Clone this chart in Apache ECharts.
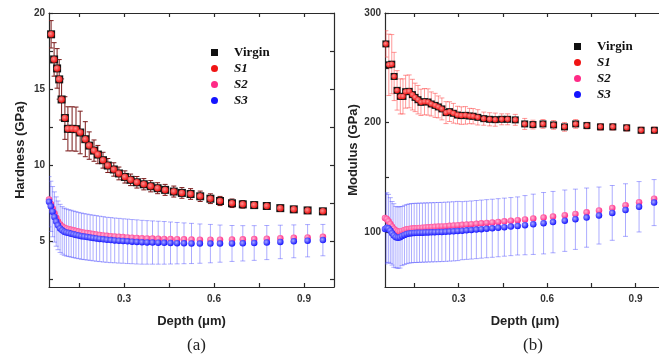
<!DOCTYPE html>
<html>
<head>
<meta charset="utf-8">
<script src="https://cdn.jsdelivr.net/npm/echarts@6/dist/echarts.min.js"></script>
<style>
  html, body { margin: 0; padding: 0; background: #fff; }
  #chart { width: 659px; height: 362px; }
</style>
</head>
<body>
<div id="chart"></div>
<script>
// ---- Hardness panel (a): Virgin / S1 sampled depths (µm) ----
const depthHard = [0.057,0.067,0.077,0.084,0.092,0.103,0.113,0.127,0.140,0.154,
  0.171,0.184,0.200,0.213,0.230,0.246,0.266,0.283,0.303,0.322,
  0.343,0.366,0.389,0.412,0.437,0.466,0.493,0.522,0.554,0.588,
  0.620,0.660,0.696,0.734,0.776,0.821,0.866,0.912,0.963];
const virginHard = [18.6,16.95,16.36,15.64,14.32,13.1,12.39,12.39,12.37,12.15,
  11.71,11.29,10.96,10.70,10.33,9.98,9.72,9.46,9.23,9.04,
  8.88,8.75,8.62,8.49,8.38,8.27,8.18,8.11,7.96,7.80,
  7.65,7.50,7.43,7.38,7.32,7.18,7.10,7.03,6.97];
const s1Hard = [18.6,16.95,16.36,15.64,14.32,13.1,12.39,12.39,12.37,12.15,
  11.71,11.29,10.96,10.70,10.33,9.98,9.72,9.46,9.23,9.04,
  8.88,8.75,8.62,8.49,8.38,8.27,8.18,8.11,7.96,7.80,
  7.65,7.50,7.43,7.38,7.32,7.18,7.10,7.03,6.97];
const virginHardErr = [0.9,1.1,1.3,1.3,1.35,1.4,1.45,1.45,1.45,1.4,
  1.15,0.9,0.7,0.6,0.52,0.46,0.44,0.42,0.4,0.38,
  0.38,0.37,0.37,0.36,0.36,0.36,0.35,0.35,0.34,0.32,
  0.3,0.28,0.25,0.22,0.2,0.2,0.2,0.2,0.2];

// ---- S2 / S3 sampled depths (µm), shared by both panels ----
const depthFine = [0.050,0.056,0.062,0.068,0.074,0.080,0.087,0.094,0.101,0.108,
  0.116,0.124,0.132,0.140,0.149,0.158,0.167,0.177,0.187,0.197,
  0.208,0.219,0.231,0.243,0.256,0.269,0.283,0.297,0.312,0.327,
  0.343,0.360,0.377,0.395,0.414,0.434,0.455,0.477,0.500,0.525,
  0.553,0.588,0.620,0.660,0.696,0.734,0.776,0.821,0.866,0.912,
  0.963];
const s2Hard = [7.75,7.45,7.15,6.85,6.55,6.30,6.10,5.97,5.90,5.85,
  5.80,5.76,5.72,5.68,5.64,5.60,5.57,5.54,5.51,5.48,
  5.45,5.42,5.39,5.36,5.34,5.32,5.30,5.28,5.26,5.24,
  5.22,5.20,5.19,5.18,5.17,5.16,5.15,5.14,5.13,5.12,
  5.11,5.11,5.11,5.12,5.13,5.15,5.17,5.20,5.23,5.26,
  5.30];
const s3Hard = [7.60,7.30,6.95,6.60,6.30,6.05,5.85,5.72,5.63,5.58,
  5.54,5.50,5.46,5.42,5.38,5.34,5.31,5.28,5.25,5.22,
  5.19,5.16,5.13,5.10,5.08,5.06,5.04,5.02,5.00,4.98,
  4.96,4.94,4.93,4.92,4.91,4.90,4.89,4.88,4.87,4.86,
  4.85,4.85,4.85,4.86,4.87,4.89,4.92,4.96,5.00,5.04,
  5.08];
const s3HardErr = [1.65,1.65,1.65,1.65,1.62,1.60,1.58,1.56,1.55,1.55,
  1.54,1.54,1.53,1.53,1.52,1.52,1.51,1.51,1.50,1.50,
  1.50,1.49,1.49,1.48,1.48,1.47,1.47,1.46,1.46,1.45,
  1.45,1.44,1.43,1.42,1.41,1.40,1.38,1.36,1.34,1.32,
  1.29,1.26,1.22,1.18,1.16,1.14,1.12,1.10,1.08,1.06,
  1.03];

// ---- Modulus panel (b): Virgin / S1 ----
const depthMod = [0.053,0.063,0.073,0.081,0.091,0.102,0.111,0.120,0.132,0.143,
  0.152,0.162,0.172,0.184,0.196,0.207,0.220,0.231,0.243,0.257,
  0.269,0.282,0.296,0.309,0.323,0.337,0.349,0.365,0.385,0.405,
  0.424,0.446,0.466,0.492,0.524,0.552,0.586,0.622,0.659,0.697,
  0.735,0.781,0.823,0.870,0.919,0.964];
const virginMod = [271.8,252.7,253.3,242.1,229.4,223.9,223.9,228.2,228.5,225.5,
  223.0,220.9,218.5,219.1,218.8,217.0,215.7,214.3,212.5,209.1,
  210.0,208.5,206.9,206.4,206.6,206.0,205.8,204.8,203.6,203.0,
  202.7,203.0,203.0,202.5,198.8,198.2,198.8,197.9,196.1,198.8,
  197.3,196.1,196.1,195.2,193.0,193.0];
const s1Mod = [271.8,252.7,253.3,242.1,229.4,223.9,223.9,228.2,228.5,225.5,
  223.0,220.9,218.5,219.1,218.8,217.0,215.7,214.3,212.5,209.1,
  210.0,208.5,206.9,206.4,206.6,206.0,205.8,204.8,203.6,203.0,
  202.7,203.0,203.0,202.5,198.8,198.2,198.8,197.9,196.1,198.8,
  197.3,196.1,196.1,195.2,193.0,193.0];
const s1ModErr = [12,28,27,22,18,16,16,15,15,14,
  13,13,12,12,12,11,11,10,10,10,
  9,9,8,8,8,7,7,7,6,6,
  6,5,5,5,5,4,4,4,4,4,
  3,3,3,3,3,3];

// ---- Modulus panel (b): S2 / S3 ----
const s2Mod = [113.0,112.0,110.0,107.5,105.0,103.0,101.5,100.6,100.5,101.2,
  102.0,102.6,103.0,103.3,103.5,103.7,103.9,104.1,104.3,104.5,
  104.7,104.9,105.1,105.3,105.5,105.8,106.1,106.4,106.7,107.0,
  107.3,107.7,108.1,108.5,108.9,109.4,109.9,110.4,111.0,111.7,
  112.5,113.4,114.3,115.5,116.7,118.1,119.9,122.1,124.6,127.4,
  130.6];
const s3Mod = [103.0,104.0,103.5,101.5,99.0,97.0,95.5,95.0,95.3,96.5,
  97.5,98.3,98.8,99.1,99.3,99.4,99.5,99.6,99.7,99.8,
  99.9,100.0,100.1,100.2,100.4,100.6,100.8,101.1,101.4,101.7,
  102.0,102.4,102.8,103.2,103.6,104.1,104.6,105.1,105.7,106.4,
  107.2,108.2,109.2,110.5,111.8,113.3,115.2,117.6,120.2,123.2,
  127.0];
const s3ModErr = [32,32,31,30,29,29,28,28,28,27,
  27,27,27,27,27,27,27,27,27,27,
  27,27,27,27,27,27,27,27,26.5,26.5,
  26.5,26.5,26.5,26.5,26.5,26.5,26.5,26.5,26.5,27,
  27.5,28,28,28,27.5,27,26,25,24,23,
  21];

// ---- Axis tick / label values ----
const depthTicks = [0.15, 0.3, 0.45, 0.6, 0.75, 0.9];
const depthLabels = [0.3, 0.6, 0.9];
const hardTicks = [2.5, 5, 7.5, 10, 12.5, 15, 17.5, 20];
const hardLabels = [5, 10, 15, 20];
const modTicks = [100, 150, 200, 250, 300];
const modLabels = [100, 200, 300];
const seriesNames = ['Virgin', 'S1', 'S2', 'S3'];

const SANS = '"Liberation Sans", Arial, Helvetica, sans-serif';
const SERIF = '"Liberation Serif", "Times New Roman", serif';
const AXIS_COLOR = '#2a2a2a';

const RED = '#f01414';
const PINK = '#ff2a86';
const BLUE = '#1414ff';

function radial(inner, outer) {
  return {
    type: 'radial', x: 0.4, y: 0.4, r: 0.6,
    colorStops: [{ offset: 0, color: inner }, { offset: 1, color: outer }]
  };
}

function pairs(xs, ys) { return xs.map((x, i) => [x, ys[i]]); }

const lineStyle = { color: AXIS_COLOR, width: 1.2 };

function xAxesFor(gridIndex) {
  const common = {
    type: 'value', gridIndex, min: 0.05, max: 1.0,
    axisLine: { show: true, onZero: false, lineStyle },
    axisTick: { show: true, inside: true, length: 4, customValues: depthTicks, lineStyle },
    splitLine: { show: false }
  };
  return [
    Object.assign({}, common, {
      position: 'bottom',
      axisLabel: {
        customValues: depthLabels, formatter: v => v.toFixed(1),
        fontFamily: SANS, fontWeight: 'bold', fontSize: 10, color: '#333', margin: 7
      },
      name: 'Depth (μm)', nameLocation: 'middle', nameGap: 28,
      nameTextStyle: { fontFamily: SANS, fontWeight: 'bold', fontSize: 13, color: '#222' }
    }),
    Object.assign({}, common, { position: 'top', axisLabel: { show: false } })
  ];
}

function yAxesFor(gridIndex, min, max, ticks, labels, name) {
  const common = {
    type: 'value', gridIndex, min, max,
    axisLine: { show: true, onZero: false, lineStyle },
    axisTick: { show: true, inside: true, length: 4, customValues: ticks, lineStyle },
    splitLine: { show: false }
  };
  return [
    Object.assign({}, common, {
      position: 'left',
      axisLabel: {
        customValues: labels, fontFamily: SANS, fontWeight: 'bold',
        fontSize: 10, color: '#333', margin: 4
      },
      name, nameLocation: 'middle', nameGap: 22,
      nameTextStyle: { fontFamily: SANS, fontWeight: 'bold', fontSize: 13, color: '#222' }
    }),
    Object.assign({}, common, { position: 'right', axisLabel: { show: false } })
  ];
}

function errorBars(name, xi, yi, xs, ys, errs, color, cap) {
  return {
    type: 'custom', name, xAxisIndex: xi, yAxisIndex: yi, z: 2, silent: true,
    clip: true,
    data: xs.map((x, i) => [x, ys[i] - errs[i], ys[i] + errs[i]]),
    encode: { x: 0, y: [1, 2] },
    renderItem(params, api) {
      const lo = api.coord([api.value(0), api.value(1)]);
      const hi = api.coord([api.value(0), api.value(2)]);
      const h = cap / 2;
      const st = { stroke: color, lineWidth: 1 };
      return {
        type: 'group',
        children: [
          { type: 'line', shape: { x1: hi[0], y1: hi[1], x2: lo[0], y2: lo[1] }, style: st },
          { type: 'line', shape: { x1: hi[0] - h, y1: hi[1], x2: hi[0] + h, y2: hi[1] }, style: st },
          { type: 'line', shape: { x1: lo[0] - h, y1: lo[1], x2: lo[0] + h, y2: lo[1] }, style: st }
        ]
      };
    }
  };
}

function scatter(name, xi, yi, xs, ys, symbol, size, color, z) {
  return {
    type: 'scatter', name, xAxisIndex: xi, yAxisIndex: yi,
    data: pairs(xs, ys), symbol, symbolSize: size, z,
    itemStyle: { color, opacity: 1 },
    emphasis: { disabled: true }
  };
}

const legendData = [
  { name: 'Virgin', icon: 'rect', itemStyle: { color: '#111' } },
  { name: 'S1', icon: 'circle', itemStyle: { color: RED } },
  { name: 'S2', icon: 'circle', itemStyle: { color: PINK } },
  { name: 'S3', icon: 'circle', itemStyle: { color: BLUE } }
];

function legendAt(left, top) {
  return {
    orient: 'vertical', left, top, itemWidth: 7, itemHeight: 7, itemGap: 3,
    selectedMode: false, data: legendData,
    formatter: n => (n === 'Virgin' ? '{n|' + n + '}' : '{i|' + n + '}'),
    textStyle: {
      rich: {
        n: { fontFamily: SERIF, fontWeight: 'bold', fontSize: 13, color: '#111', padding: [0, 0, 0, 11], lineHeight: 14 },
        i: { fontFamily: SERIF, fontWeight: 'bold', fontStyle: 'italic', fontSize: 13, color: '#111', padding: [0, 0, 0, 11], lineHeight: 14 }
      }
    }
  };
}

const [xa0, xa1] = xAxesFor(0);
const [xb0, xb1] = xAxesFor(1);
const [ya0, ya1] = yAxesFor(0, 2, 20, hardTicks, hardLabels, 'Hardness (GPa)');
const [yb0, yb1] = yAxesFor(1, 50, 300, modTicks, modLabels, 'Modulus (GPa)');

const option = {
  animation: false,
  backgroundColor: '#fff',
  grid: [
    { left: 49, top: 13, width: 285, height: 274, outerBoundsMode: 'none' },
    { left: 385, top: 13, width: 280, height: 274, outerBoundsMode: 'none' }
  ],
  xAxis: [xa0, xa1, xb0, xb1],
  yAxis: [ya0, ya1, yb0, yb1],
  legend: [legendAt(206, 41), legendAt(569, 35)],
  series: [
    // panel (a)
    errorBars('S3 err a', 0, 0, depthFine, s3Hard, s3HardErr, 'rgba(70,70,255,0.45)', 5),
    scatter('S2', 0, 0, depthFine, s2Hard, 'circle', 6.5, radial('#ffb3d4', PINK), 3),
    scatter('S3', 0, 0, depthFine, s3Hard, 'circle', 6.5, radial('#a8a8ff', BLUE), 4),
    errorBars('Virgin err a', 0, 0, depthHard, virginHard, virginHardErr, '#7a1a1a', 5),
    scatter('Virgin', 0, 0, depthHard, virginHard, 'rect', 8, '#151515', 5),
    scatter('S1', 0, 0, depthHard, s1Hard, 'circle', 6.5, radial('#ff9090', RED), 6),
    // panel (b)
    errorBars('S3 err b', 2, 2, depthFine, s3Mod, s3ModErr, 'rgba(70,70,255,0.45)', 5),
    scatter('S2', 2, 2, depthFine, s2Mod, 'circle', 6.5, radial('#ffb3d4', PINK), 3),
    scatter('S3', 2, 2, depthFine, s3Mod, 'circle', 6.5, radial('#a8a8ff', BLUE), 4),
    errorBars('Virgin err b', 2, 2, depthMod, virginMod, s1ModErr, 'rgba(255,70,70,0.55)', 5),
    scatter('Virgin', 2, 2, depthMod, virginMod, 'rect', 7, '#151515', 5),
    scatter('S1', 2, 2, depthMod, s1Mod, 'circle', 5.5, radial('#ff9090', RED), 6)
  ],
  graphic: [
    { type: 'text', left: 199 - 12, top: 337, style: { text: '(a)', font: '17px ' + SERIF, fill: '#222' } },
    { type: 'text', left: 535 - 12, top: 337, style: { text: '(b)', font: '17px ' + SERIF, fill: '#222' } }
  ]
};

const chart = echarts.init(document.getElementById('chart'), null, { renderer: 'canvas' });
chart.setOption(option);
</script>
</body>
</html>
